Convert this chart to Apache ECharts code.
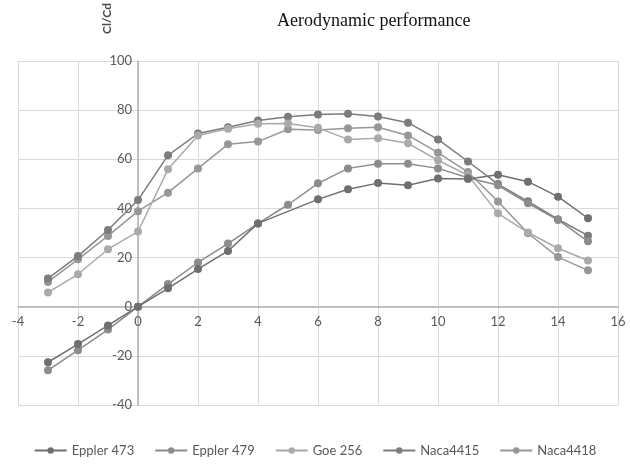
<!DOCTYPE html>
<html>
<head>
<meta charset="utf-8">
<script src="https://cdn.jsdelivr.net/npm/echarts@6/dist/echarts.min.js"></script>
<style>
html,body{margin:0;padding:0;background:#fff;}
#container1{width:630px;height:467px;}
</style>
</head>
<body>
<div id="container1"></div>
<script>
var alpha=[-3,-2,-1,0,1,2,3,4,5,6,7,8,9,10,11,12,13,14,15];
var names=['Eppler 473','Eppler 479','Goe 256','Naca4415','Naca4418'];
var colors=['#6f6f6f','#8c8c8c','#aaaaaa','#7c7c7c','#979797'];
// Cl/Cd values, one per alpha (null = no point)
var eppler473=[-22.6,-15.2,-7.6,0,7.5,15.3,22.7,33.9,null,43.7,47.8,50.3,49.4,52.2,52.0,53.7,50.9,44.8,36.0];
var eppler479=[-25.9,-17.7,-9.3,0,9.2,18.0,25.7,33.9,41.5,50.2,56.3,58.2,58.2,56.3,52.5,49.4,42.1,35.3,26.6];
var goe256=[5.8,13.2,23.4,30.6,55.9,69.7,72.4,74.5,74.6,72.8,68.1,68.6,66.5,59.6,53.5,38.0,30.2,23.8,18.8];
var naca4415=[11.5,20.6,31.2,43.4,61.6,70.5,73.0,75.8,77.3,78.2,78.5,77.4,74.9,68.1,59.1,49.9,42.9,35.6,28.9];
var naca4418=[10.1,19.3,28.8,38.9,46.4,56.3,66.1,67.2,72.2,71.9,72.6,73.0,69.7,62.7,54.8,42.8,29.9,20.2,14.8];
var values=[eppler473,eppler479,goe256,naca4415,naca4418];

var dom1=document.getElementById("container1");
var myChart1=echarts.init(dom1);

function pairs(arr){
    var out=[];
    for(var i=0;i<alpha.length;i++){
        if(arr[i]!==null){
            out.push([alpha[i],arr[i]]);
        }
    }
    return out;
}

var series=[];
for(var k=0;k<names.length;k++){
    series.push({
        name:names[k],
        type:'line',
        data:pairs(values[k]),
        symbol:'circle',
        symbolSize:8,
        lineStyle:{width:1.5,color:colors[k]},
        itemStyle:{color:colors[k]},
        z:10-k
    });
}

// axes sit on the zero lines like the excel chart (labels move with them)
var option1={
    animation:false,
    textStyle:{fontFamily:'Lato'},
    title:{
        text:'Aerodynamic performance',
        left:272,
        top:7,
        textStyle:{fontFamily:'Liberation Serif',fontWeight:'normal',fontSize:18,color:'#111'}
    },
    graphic:[{
        type:'text',
        x:101,
        y:34,
        rotation:Math.PI/2,
        style:{text:'Cl/Cd',fill:'#4a4a4a',font:'bold 12px Lato'}
    }],
    grid:{left:18,right:12,top:61,bottom:62,containLabel:false},
    xAxis:{
        type:'value',
        min:-4,
        max:16,
        interval:2,
        offset:-98.3,
        axisLine:{onZero:false,lineStyle:{color:'#b0b0b0',width:1.5}},
        axisTick:{show:false},
        axisLabel:{color:'#595959',fontSize:13,margin:9},
        splitLine:{show:true,lineStyle:{color:'#d9d9d9'}}
    },
    yAxis:{
        type:'value',
        min:-40,
        max:100,
        interval:20,
        offset:-120,
        axisLine:{show:true,onZero:false,lineStyle:{color:'#b0b0b0',width:1.5}},
        axisTick:{show:false},
        axisLabel:{color:'#595959',fontSize:13,margin:6},
        splitLine:{show:true,lineStyle:{color:'#d9d9d9'}}
    },
    legend:{
        data:names,
        bottom:5,
        left:'center',
        itemGap:20,
        itemWidth:32,
        itemHeight:8,
        textStyle:{color:'#595959',fontSize:13}
    },
    series:series
};
myChart1.setOption(option1);
</script>
</body>
</html>
